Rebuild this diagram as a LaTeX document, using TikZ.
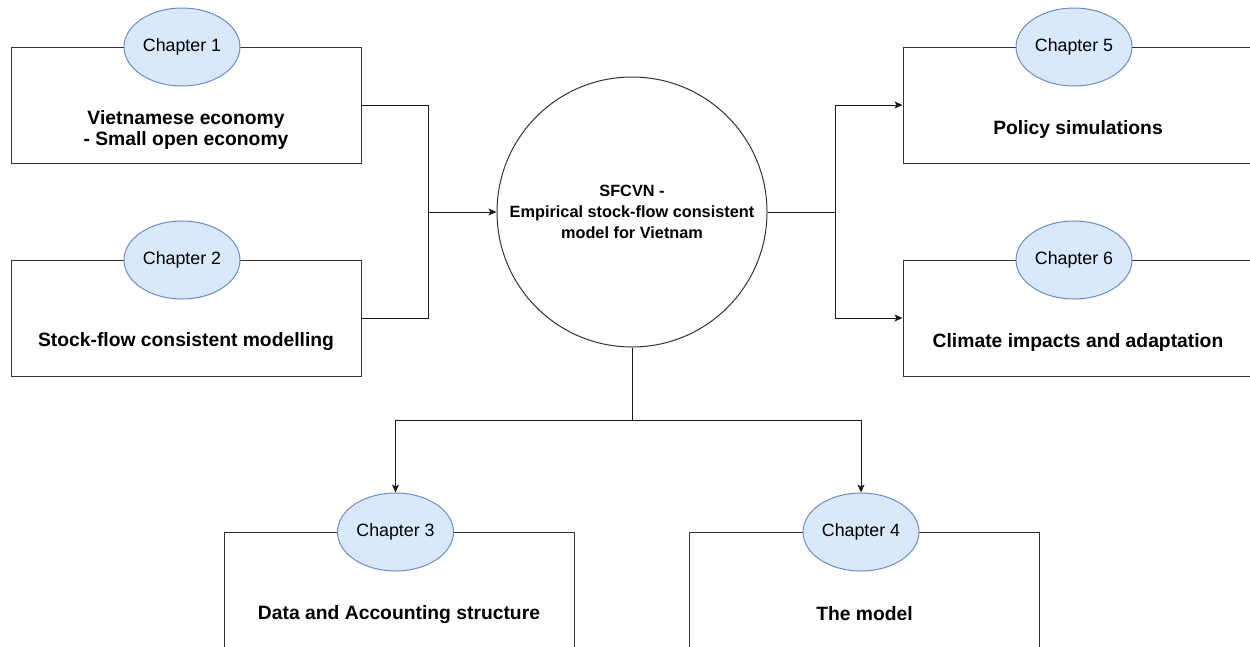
\documentclass[tikz,border=0pt]{standalone}
\usepackage{fontspec}
\setmainfont{Liberation Sans}
\usetikzlibrary{arrows.meta,shapes.geometric}
\definecolor{chfill}{HTML}{DAE8FC}
\definecolor{chdraw}{HTML}{6C8EBF}
\definecolor{lne}{HTML}{333333}
\tikzset{
  chbox/.style={draw=lne, line width=1pt, fill=white, minimum width=350pt, minimum height=116pt, inner sep=0pt},
  chell/.style={ellipse, draw=chdraw, line width=1pt, fill=chfill, minimum width=116pt, minimum height=78pt, inner sep=0pt, font=\fontsize{17.8}{20}\selectfont},
  chtext/.style={align=center, font=\fontsize{19.3}{21}\selectfont\bfseries},
  maincirc/.style={circle, draw=lne, line width=1pt, fill=white, minimum size=270pt, inner sep=0pt, align=center, font=\fontsize{16.3}{21}\selectfont\bfseries},
  conn/.style={draw=black!90, line width=1pt},
  arr/.style={conn, -{Stealth[length=8pt,width=7pt,inset=2pt]}}
}
\begin{document}
\begin{tikzpicture}[x=1pt,y=-1pt]
\useasboundingbox (0,0) rectangle (1250,646);
% boxes
\node[chbox] (b1) at (186,105) {};
\node[chbox] (b2) at (186,318) {};
\node[chbox] (b5) at (1078,105) {};
\node[chbox] (b6) at (1078,318) {};
\node[chbox] (b3) at (399,590) {};
\node[chbox] (b4) at (864.5,590) {};
% texts
\node[chtext] (t1) at ([yshift=-25.5pt]b1.center) {Vietnamese economy\\- Small open economy};
\node[chtext] (t2) at ([yshift=-24pt]b2.center) {Stock-flow consistent modelling};
\node[chtext] (t5) at ([yshift=-25pt]b5.center) {Policy simulations};
\node[chtext] (t6) at ([yshift=-25pt]b6.center) {Climate impacts and adaptation};
\node[chtext] (t3) at ([yshift=-25pt]b3.center) {Data and Accounting structure};
\node[chtext] (t4) at ([yshift=-24pt]b4.center) {The model};
% chapter ellipses
\node[chell] (e1) at (182,47) {Chapter 1};
\node[chell] (e2) at (182,260) {Chapter 2};
\node[chell] (e5) at (1074,47) {Chapter 5};
\node[chell] (e6) at (1074,260) {Chapter 6};
\node[chell] (e3) at (395.5,532) {Chapter 3};
\node[chell] (e4) at (861,532) {Chapter 4};
% main circle
\node[maincirc] (m) at (632,212) {SFCVN -\\Empirical stock-flow consistent\\model for Vietnam};
% junctions
\coordinate (jl) at (428,212);
\coordinate (jr) at (835,212);
\coordinate (jb) at (632,420);
% connectors
\draw[conn] (b1.east) -| (jl);
\draw[conn] (b2.east) -| (jl);
\draw[arr] (jl) -- (m.west);
\draw[conn] (m.east) -- (jr);
\draw[arr] (jr) |- (b5.west);
\draw[arr] (jr) |- (b6.west);
\draw[conn] (m.south) -- (jb);
\draw[arr] (jb) -| (e3.north);
\draw[arr] (jb) -| (e4.north);
\end{tikzpicture}
\end{document}
